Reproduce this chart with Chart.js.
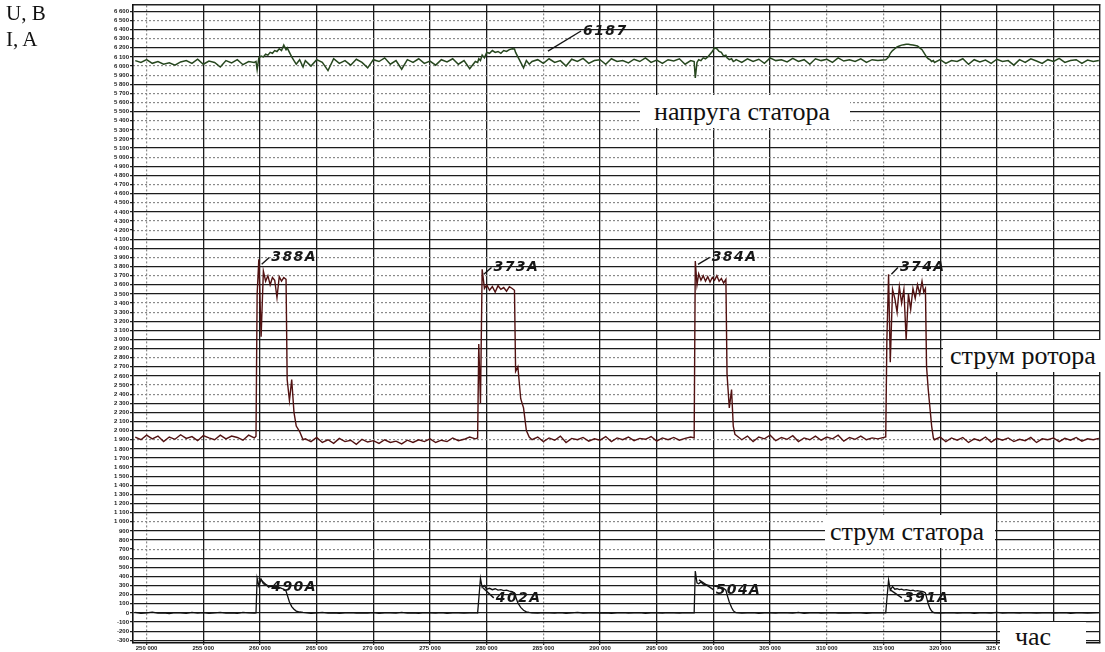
<!DOCTYPE html>
<html><head><meta charset="utf-8">
<script src="https://cdn.jsdelivr.net/npm/chart.js@4/dist/chart.umd.min.js"></script>
<style>
html,body{margin:0;padding:0;background:#fff;}
#wrap{position:relative;width:1105px;height:652px;overflow:hidden;}
#c{position:absolute;left:0;top:0;}
.lbl{position:absolute;background:#fff;font-family:'Liberation Serif','Times New Roman',serif;color:#111;white-space:nowrap;box-sizing:border-box;}
.ax{position:absolute;font-family:'Liberation Serif','Times New Roman',serif;color:#111;font-size:21px;}
</style></head>
<body><div id="wrap">
<canvas id="c" width="1105" height="652"></canvas>
<div class="ax" style="left:6px;top:1px;">U, B</div>
<div class="ax" style="left:6px;top:27px;">I, A</div>
<div class="lbl" style="left:640px;top:95px;width:210px;height:33px;line-height:33px;padding-left:14px;font-size:26px;">напруга статора</div>
<div class="lbl" style="left:943px;top:340px;width:162px;height:32px;line-height:32px;padding-left:7px;font-size:26px;">струм ротора</div>
<div class="lbl" style="left:825px;top:515px;width:170px;height:33px;line-height:33px;padding-left:5px;font-size:26px;">струм статора</div>
<div class="lbl" style="left:1000px;top:622px;width:86px;height:30px;line-height:30px;padding-left:15px;font-size:26px;">час</div>
</div>
<script>
// ---- data ----
const timeSec = [
249000,249500,250000,250500,251000,251500,252000,252500,253000,253500,254000,254500,255000,255500,256000,256500,257000,257500,258000,258500,259000,259500,
259650,259750,259900,260100,260300,260500,260700,260900,261100,261300,261500,261700,261900,262100,262300,262400,262600,262800,263000,263200,263500,263800,
264000,264500,265000,265500,266000,266500,267000,267500,268000,268500,269000,269500,270000,270500,271000,271500,272000,272500,273000,273500,274000,274500,275000,275500,276000,276500,277000,277500,278000,278500,279000,
279200,279300,279450,279600,279800,280000,280250,280500,280750,281000,281250,281500,281750,282000,282250,282450,282550,282750,283000,283250,283500,283750,
284000,284500,285000,285500,286000,286500,287000,287500,288000,288500,289000,289500,290000,290500,291000,291500,292000,292500,293000,293500,294000,294500,295000,295500,296000,296500,297000,297500,298000,
298300,298400,298550,298700,298900,299100,299300,299500,299700,299900,300100,300300,300500,300700,300900,301100,301200,301400,301600,301750,301900,
302000,302500,303000,303500,304000,304500,305000,305500,306000,306500,307000,307500,308000,308500,309000,309500,310000,310500,311000,311500,312000,312500,313000,313500,314000,314500,
315200,315300,315450,315600,315800,316000,316200,316400,316600,316800,317000,317200,317400,317600,317800,318000,318200,318400,318550,318700,318800,318950,319100,319250,319400,
319500,320000,320500,321000,321500,322000,322500,323000,323500,324000,324500,325000,325500,326000,326500,327000,327500,328000,328500,329000,329500,330000,330500,331000,331500,332000,332500,333000,333500,334000
];
const statorVoltage = [
6060,6040,6070,6030,6050,6020,6035,6010,6045,6060,6030,6075,6020,6055,6040,5990,6060,6035,6070,6015,6050,6040,
6050,5960,6090,6110,6100,6130,6120,6150,6140,6170,6160,6190,6170,6230,6180,6200,6150,6100,6060,6020,6070,5990,
6060,6000,6070,6040,5950,6080,6030,6060,6010,6075,6040,5980,6070,6050,6090,6020,6060,5965,6070,6040,6080,6030,6055,6010,6070,6045,6080,6020,6060,5970,6050,
6040,6080,6060,6120,6090,6150,6140,6170,6150,6160,6140,6170,6160,6180,6190,6187,6150,6100,6040,5980,6060,6020,
6050,6070,6030,6080,6040,6060,6000,6075,6050,6085,6030,6060,6070,6020,6080,6050,6060,6035,6075,6050,6090,6040,6065,6030,6070,6055,6080,6020,6060,
6050,5870,6040,6070,6060,6090,6080,6100,6130,6160,6200,6190,6160,6150,6110,6120,6090,6070,6080,6050,6060,
6070,6040,6080,6050,6075,6030,6090,6060,6070,6045,6085,6050,6070,6020,6080,6060,6075,6040,6090,6055,6070,6050,6080,6040,6070,6060,
6070,6080,6100,6140,6170,6190,6210,6220,6230,6235,6240,6240,6235,6230,6225,6220,6200,6180,6150,6120,6100,6080,6070,6050,6060,
6040,6070,6030,6060,6050,6080,6020,6070,6045,6065,6030,6075,6050,6060,6010,6070,6040,6080,6055,6030,6070,6050,6085,6040,6060,6070,6030,6065,6050,6060
];
const rotorCurrent = [
1930,1900,1950,1910,1940,1880,1930,1905,1955,1915,1935,1890,1945,1920,1900,1950,1910,1940,1925,1895,1950,1920,
1940,3500,3880,3030,3750,3640,3700,3600,3680,3650,3460,3690,3640,3680,3660,2560,2330,2560,2200,2050,1990,1900,
1910,1880,1925,1870,1900,1860,1915,1880,1895,1850,1905,1875,1890,1860,1900,1870,1885,1855,1895,1870,1900,1880,1910,1870,1895,1880,1920,1890,1905,1930,1910,
1920,2950,2300,3770,3560,3600,3540,3580,3520,3590,3550,3570,3530,3580,3560,3540,2650,2700,2350,2250,2000,1930,
1900,1930,1880,1920,1895,1940,1870,1915,1900,1925,1885,1910,1895,1935,1880,1920,1900,1930,1890,1915,1905,1935,1885,1920,1900,1925,1895,1915,1930,
1920,3860,3600,3720,3650,3700,3640,3690,3630,3680,3650,3700,3640,3670,3620,3660,2620,2250,2450,2050,1960,
1950,1900,1940,1880,1930,1910,1950,1890,1925,1905,1945,1880,1920,1900,1940,1895,1930,1910,1950,1885,1925,1905,1940,1900,1920,1910,
1930,3000,3715,2750,3550,3450,3300,3580,3400,3550,3000,3500,3330,3560,3450,3600,3500,3640,3520,3560,2700,2450,2250,2050,1920,
1900,1930,1880,1920,1895,1925,1870,1910,1890,1930,1875,1915,1895,1920,1880,1905,1890,1925,1870,1910,1900,1920,1880,1915,1895,1925,1885,1910,1900,1915
];
const statorCurrent = [
5,-5,0,8,-3,2,-6,4,0,-4,6,-2,3,-5,1,7,-3,2,-4,5,0,-2,
0,380,300,370,320,310,300,290,295,285,290,280,270,260,240,200,120,70,40,20,10,5,
3,-4,0,5,-2,2,-5,0,4,-3,1,-1,3,-4,2,0,-3,5,-2,1,-4,3,0,-2,4,-5,1,2,-3,0,3,
0,150,380,280,300,260,270,255,265,250,255,245,250,240,235,220,180,110,60,30,12,5,
2,-3,4,0,-2,3,-4,1,5,-1,0,3,-3,2,-5,1,4,-2,0,3,-4,2,1,-3,4,0,-2,3,0,
0,460,330,320,340,315,310,305,300,300,295,290,285,280,270,250,200,120,60,25,8,
4,-2,0,3,-5,2,1,-3,4,0,-2,5,-4,1,3,-1,0,4,-3,2,-2,3,0,-4,2,1,
0,150,360,250,290,260,265,255,260,250,255,250,245,250,240,245,240,235,230,220,170,100,50,20,5,
2,-3,0,4,-2,1,3,-4,0,2,-1,5,-3,0,2,-2,4,0,-3,1,3,-2,0,4,-4,1,2,-1,0,3
];
// handwritten marks on the record
const noteTexts = ['6187','388A','373A','384A','374A','490A','402A','504A','391A'];
const noteTimes = [288500,261000,280600,299850,316450,261000,280800,300200,316800];
const noteValues = [6385,3900,3790,3900,3790,275,165,253,165];
const leadTimes = [285400,260150,279750,298640,315700,259886,279660,298725,315600];
const leadValues = [6165,3825,3715,3825,3715,385,275,363,253];
// tick labels
const xTickValues = [250000,255000,260000,265000,270000,275000,280000,285000,290000,295000,300000,305000,310000,315000,320000,325000,330000];
const yTickValues = [-300,-200,-100,0,100,200,300,400,500,600,700,800,900,1000,1100,1200,1300,1400,1500,1600,1700,1800,1900,2000,
  2100,2200,2300,2400,2500,2600,2700,2800,2900,3000,3100,3200,3300,3400,3500,3600,3700,3800,3900,4000,4100,4200,4300,4400,4500,
  4600,4700,4800,4900,5000,5100,5200,5300,5400,5500,5600,5700,5800,5900,6000,6100,6200,6300,6400,6500,6600];
const yMin = -330, yMax = 6670;
const xMin = 248800, xMax = 334100;
const lightHLines = [6500,6300,6000,5900,5700,5600,5400,5300,5200,5000,4700,4500,4300,4200,3900,3700,3400,3300,2800,2500,2400,1900,1000,700];
const lightVLines = [250000,285000,310000,315000];

function fmt(v){
  const s = Math.abs(v).toString();
  const r = s.length > 3 ? s.slice(0,-3) + ' ' + s.slice(-3) : s;
  return (v < 0 ? '-' : '') + r;
}
const pts = arr => timeSec.map((t,i) => ({x:t, y:arr[i]}));
const setTicks = vals => s => { s.ticks = vals.map(v => ({value:v})); };

const notesPlugin = {
  id:'notes',
  afterDatasetsDraw(chart){
    const {ctx, scales:{x,y}} = chart;
    ctx.save();
    ctx.fillStyle = '#161616';
    ctx.strokeStyle = '#161616';
    ctx.lineWidth = 1.4;
    ctx.font = 'italic bold 14px "DejaVu Sans", sans-serif';
    ctx.textBaseline = 'middle';
    noteTexts.forEach((txt,i) => {
      const px = x.getPixelForValue(noteTimes[i]);
      const py = y.getPixelForValue(noteValues[i]);
      const lx = x.getPixelForValue(leadTimes[i]);
      const ly = y.getPixelForValue(leadValues[i]);
      ctx.beginPath(); ctx.moveTo(lx, ly); ctx.lineTo(px - 2, py); ctx.stroke();
      ctx.fillText(txt.split('').join(String.fromCharCode(8202)), px, py);
    });
    ctx.restore();
  }
};

const tickFont = {family:'"Liberation Sans", Arial, sans-serif', size:6, weight:'bold'};

new Chart(document.getElementById('c'), {
  type:'line',
  data:{ datasets:[
    {label:'напруга статора', data:pts(statorVoltage), borderColor:'#27471f', borderWidth:1.5, pointRadius:0, tension:0},
    {label:'струм ротора', data:pts(rotorCurrent), borderColor:'#521212', borderWidth:1.4, pointRadius:0, tension:0},
    {label:'струм статора', data:pts(statorCurrent), borderColor:'#111111', borderWidth:1.3, pointRadius:0, tension:0}
  ]},
  options:{
    responsive:false, animation:false, devicePixelRatio:1,
    layout:{padding:{left:0, right:5, top:5, bottom:0}},
    plugins:{legend:{display:false}, tooltip:{enabled:false}},
    scales:{
      x:{type:'linear', position:'bottom', min:xMin, max:xMax,
        afterBuildTicks:setTicks(xTickValues),
        afterFit:s => { s.height = 9; },
        ticks:{autoSkip:false, maxRotation:0, padding:0, color:'#222', font:tickFont, callback:v => fmt(v)},
        grid:{color:c => (c.tick && lightVLines.includes(c.tick.value)) ? 'rgba(0,0,0,0)' : '#1c1c1c', lineWidth:1.3, tickLength:2, tickColor:'#222'},
        border:{display:true, color:'#111', width:1.6}
      },
      x2:{type:'linear', position:'top', min:xMin, max:xMax,
        afterBuildTicks:setTicks(xTickValues),
        afterFit:s => { s.height = 0; },
        ticks:{display:false},
        grid:{color:c => (c.tick && lightVLines.includes(c.tick.value)) ? '#8a8a8a' : 'rgba(0,0,0,0)', lineWidth:1.2, drawTicks:false},
        border:{display:true, color:'#222', width:1.4, dash:[2,2]}
      },
      y:{type:'linear', position:'left', min:yMin, max:yMax,
        afterBuildTicks:setTicks(yTickValues),
        afterFit:s => { s.width = 133; },
        ticks:{autoSkip:false, padding:1, color:'#222', font:tickFont, callback:v => fmt(v)},
        grid:{color:c => (c.tick && lightHLines.includes(c.tick.value)) ? 'rgba(0,0,0,0)' : '#1c1c1c', lineWidth:1.3, tickLength:3, tickColor:'#222'},
        border:{display:true, color:'#111', width:1.6}
      },
      y2:{type:'linear', position:'right', min:yMin, max:yMax,
        afterBuildTicks:setTicks(yTickValues),
        afterFit:s => { s.width = 0; },
        ticks:{display:false},
        grid:{color:c => (c.tick && lightHLines.includes(c.tick.value)) ? '#8a8a8a' : 'rgba(0,0,0,0)', lineWidth:1.2, drawTicks:false},
        border:{display:true, color:'#222', width:1.4, dash:[2,2]}
      }
    }
  },
  plugins:[notesPlugin]
});
</script>
</body></html>
